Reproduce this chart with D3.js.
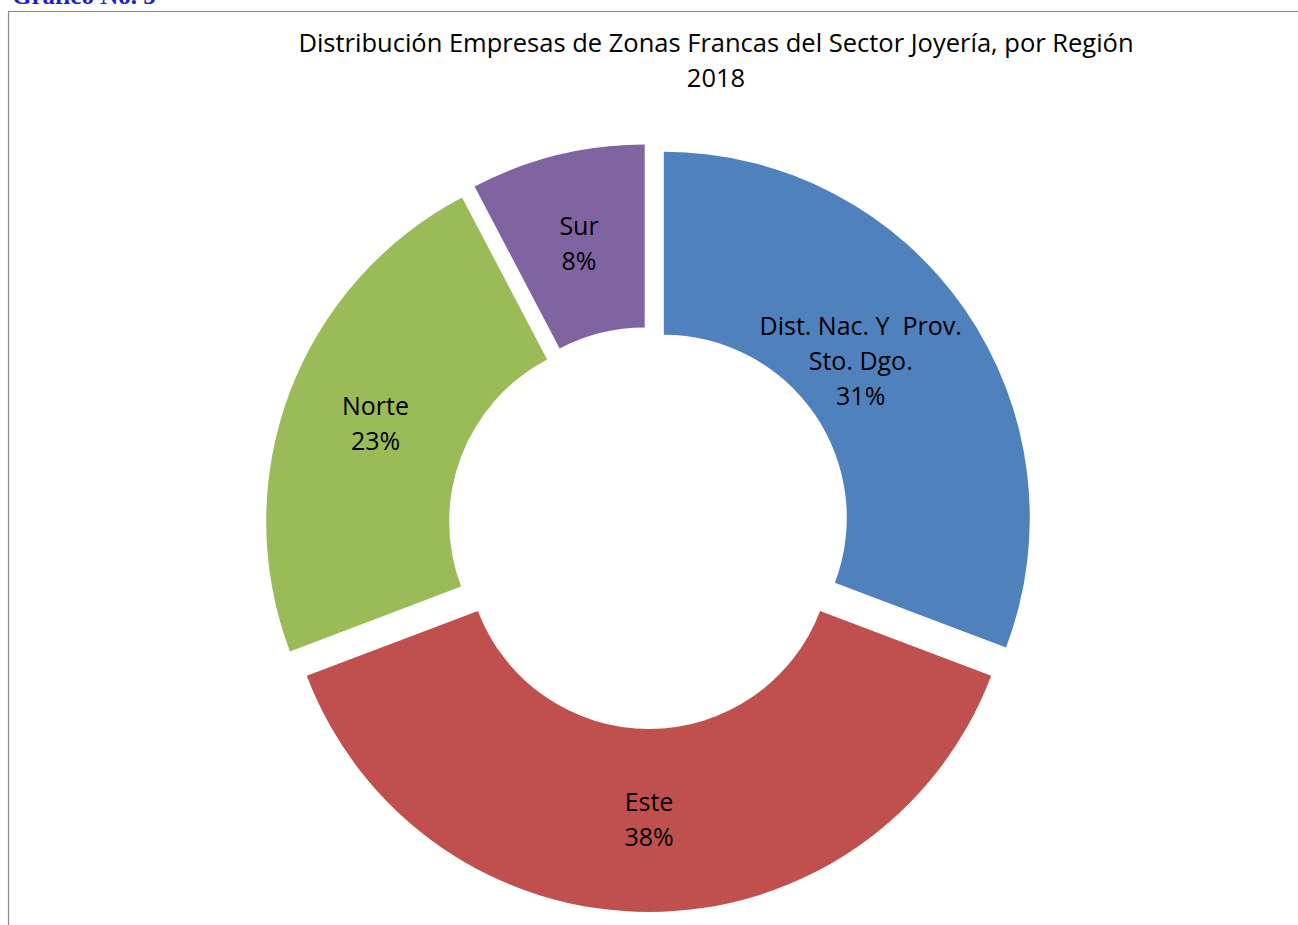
<!DOCTYPE html>
<meta charset="UTF-8">
<title>Distribución Empresas de Zonas Francas</title>
<style>
  body { margin: 0; background: #fff; }
  svg { display: block; }
  .lbl { font-family: 'Open Sans', sans-serif; font-size: 25px; fill: #000; white-space: pre; }
</style>
<script src="https://d3js.org/d3.v7.min.js"></script>
<body>
<script>
  // data: companies per region (13 in total)
  var regions = ["Dist. Nac. Y  Prov.|Sto. Dgo.", "Este", "Norte", "Sur"];
  var counts = [4, 5, 3, 1];
  var colors = ["#4F81BD", "#C0504D", "#9BBB59", "#8064A2"];
  var titleLines = ["Distribución Empresas de Zonas Francas del Sector Joyería, por Región", "2018"];

  var width = 1298, height = 925;
  var svg = d3.select("body").append("svg").attr("width", width).attr("height", height);

  // page header, mostly cut off at the top
  svg.append("text")
    .attr("x", 12).attr("y", 4)
    .style("font-family", "'Liberation Serif', serif")
    .style("font-weight", "bold")
    .style("font-size", "25px")
    .style("fill", "#1c1cd6")
    .text("Gráfico No. 5");

  // chart frame
  svg.append("path")
    .attr("d", "M8.5,925 V11.5 H1298")
    .style("fill", "none")
    .style("stroke", "#8a8a8a")
    .style("stroke-width", 1.2);

  svg.append("text")
    .attr("class", "lbl")
    .attr("text-anchor", "middle")
    .style("font-size", "25.5px")
    .selectAll("tspan")
    .data(titleLines)
    .enter().append("tspan")
    .attr("x", 716)
    .attr("y", function(d, i) { return 52 + i * 35; })
    .text(function(d) { return d; });

  var cx = 649, cy = 528, outerR = 366, innerR = 183, explode = 18;
  var total = d3.sum(counts);

  var pie = d3.pie().sort(null).value(function(d) { return d; });
  var arc = d3.arc().innerRadius(innerR).outerRadius(outerR);
  var arcs = pie(counts);

  var g = svg.append("g").attr("transform", "translate(" + cx + "," + cy + ")");

  function offset(d, r) {
    var a = (d.startAngle + d.endAngle) / 2;
    return [Math.sin(a) * r, -Math.cos(a) * r];
  }

  var slice = g.selectAll("g.slice")
    .data(arcs)
    .enter().append("g")
    .attr("class", "slice")
    .attr("transform", function(d) {
      var o = offset(d, explode);
      return "translate(" + o[0] + "," + o[1] + ")";
    });

  slice.append("path")
    .attr("d", arc)
    .style("fill", function(d, i) { return colors[i]; });

  // small nudge so the long label stays inside its slice, like Excel does
  var nudge = [-29, 0, 0, 0];

  slice.append("text")
    .attr("class", "lbl")
    .attr("text-anchor", "middle")
    .each(function(d, i) {
      var c = arc.centroid(d);
      var lines = regions[i].split("|").concat([Math.round(d.value / total * 100) + "%"]);
      var y0 = c[1] - (lines.length - 1) * 35 / 2 + 8;
      d3.select(this).selectAll("tspan")
        .data(lines)
        .enter().append("tspan")
        .attr("x", c[0] + nudge[i])
        .attr("y", function(t, k) { return y0 + k * 35; })
        .text(function(t) { return t; });
    });
</script>
</body>
